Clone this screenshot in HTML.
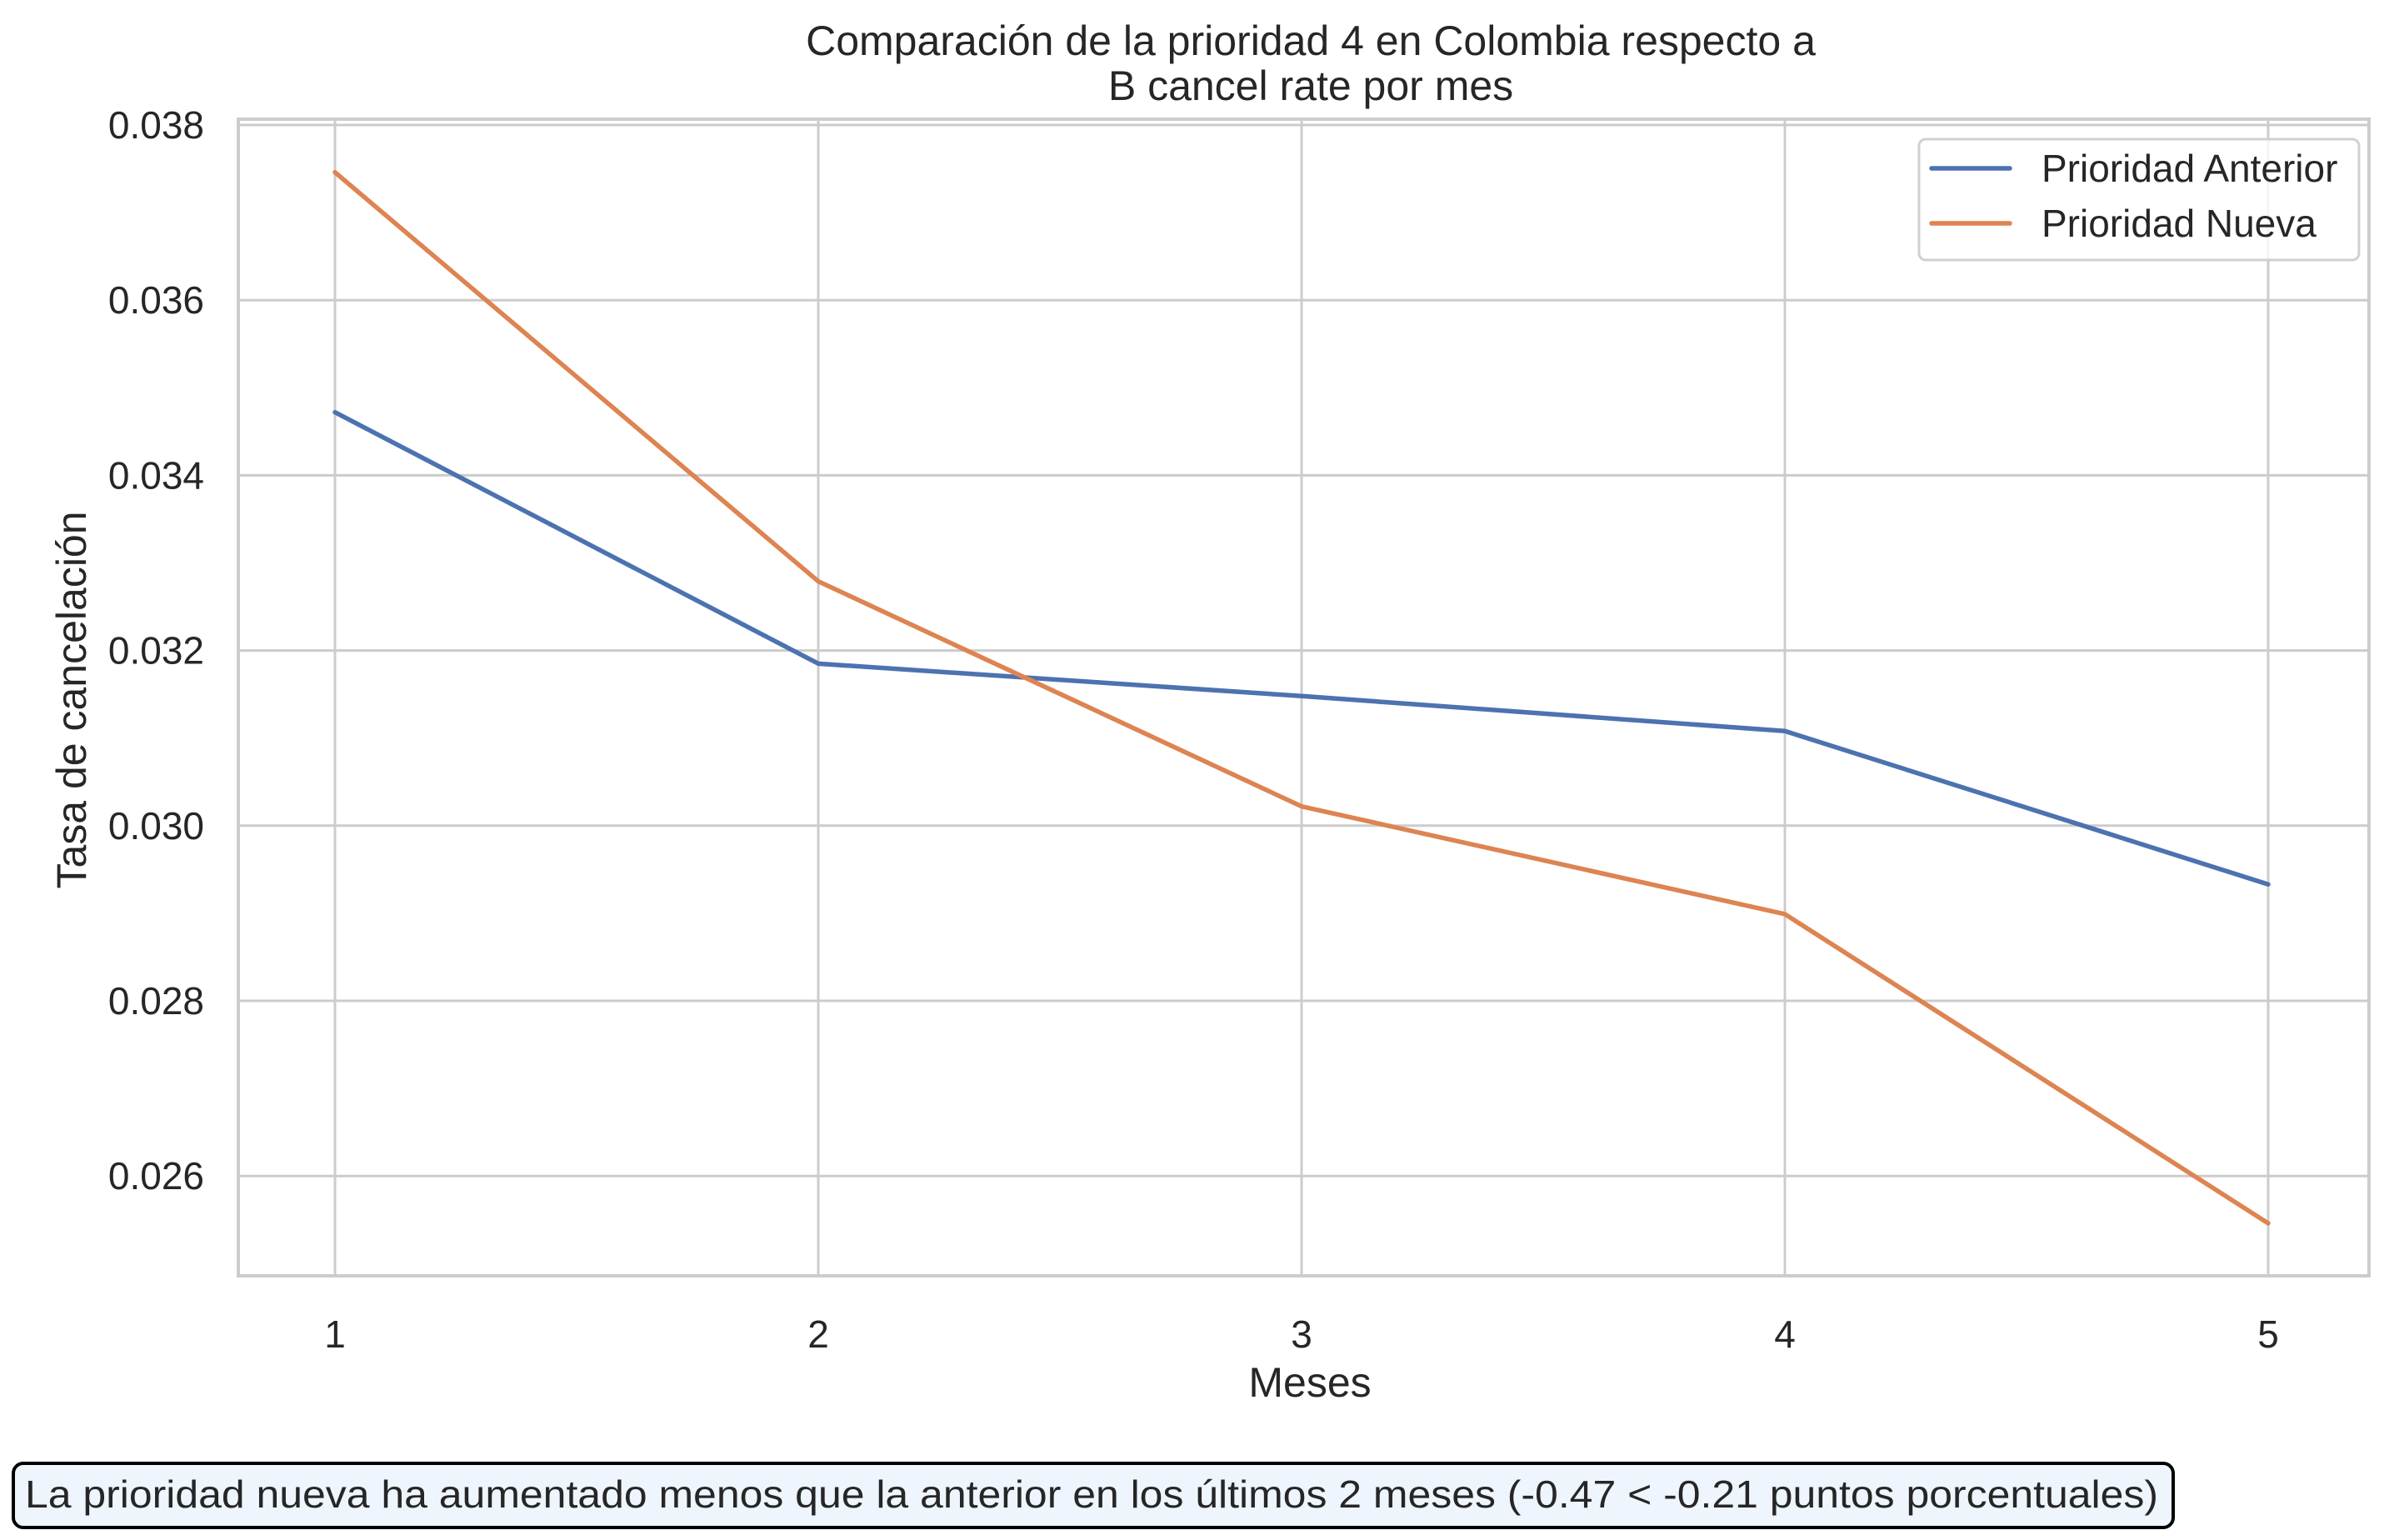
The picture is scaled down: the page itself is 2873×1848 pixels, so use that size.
<!DOCTYPE html>
<html><head><meta charset="utf-8">
<style>
html,body{margin:0;padding:0;background:#fff;}
svg{display:block;}
text{font-family:"Liberation Sans",Arial,sans-serif;fill:#262626;}
</style></head>
<body>
<svg id="chart" xmlns="http://www.w3.org/2000/svg" width="2873" height="1848" viewBox="0 0 2873 1848">
<rect width="2873" height="1848" fill="#fff"/>
<g id="grid"></g>
<g id="lines"></g>
<g id="labels"></g>
<text x="1573" y="66" font-size="50" text-anchor="middle">Comparación de la prioridad 4 en Colombia respecto a</text>
<text x="1573" y="120" font-size="50" text-anchor="middle">B cancel rate por mes</text>
<text x="1572" y="1676" font-size="50" text-anchor="middle">Meses</text>
<text x="0" y="0" font-size="50" text-anchor="middle" transform="translate(103,840) rotate(-90)">Tasa de cancelación</text>
<g>
<rect x="2303" y="167" width="528" height="145" rx="8" fill="#fff" fill-opacity="0.8" stroke="#d0d0d0" stroke-width="3"/>
<line x1="2318" y1="202" x2="2412" y2="202" stroke="#4c72b0" stroke-width="5.5" stroke-linecap="round"/>
<text x="2450" y="218" font-size="46">Prioridad Anterior</text>
<line x1="2318" y1="268" x2="2412" y2="268" stroke="#dd8452" stroke-width="5.5" stroke-linecap="round"/>
<text x="2450" y="284" font-size="46">Prioridad Nueva</text>
</g>
<g>
<rect x="16" y="1756" width="2592" height="77" rx="12" fill="#eef5fd" stroke="#000" stroke-width="4"/>
<text x="30" y="1809" font-size="46" textLength="2560" lengthAdjust="spacingAndGlyphs">La prioridad nueva ha aumentado menos que la anterior en los últimos 2 meses (-0.47 &lt; -0.21 puntos porcentuales)</text>
</g>
</svg>
<script>
const months = [1, 2, 3, 4, 5];
const anterior = [0.03472, 0.03185, 0.03148, 0.03108, 0.02933];
const nueva = [0.03746, 0.03279, 0.03022, 0.02899, 0.02546];
const yTicks = [0.026, 0.028, 0.030, 0.032, 0.034, 0.036, 0.038];
const yTickLabels = ["0.026", "0.028", "0.030", "0.032", "0.034", "0.036", "0.038"];

const NS = "http://www.w3.org/2000/svg";
const L = 286, R = 2843, T = 143, B = 1531;
function xs(m) { return 402 + (m - 1) * 580; }
function ys(v) { return 150 + (0.038 - v) / 0.002 * 210.2; }

const grid = document.getElementById('grid');
const labels = document.getElementById('labels');
const lines = document.getElementById('lines');

function mk(tag, attrs, parent) {
  const e = document.createElementNS(NS, tag);
  for (const k in attrs) e.setAttribute(k, attrs[k]);
  parent.appendChild(e);
  return e;
}

yTicks.forEach((t, i) => {
  const g = mk('line', {x1: L, x2: R, y1: ys(t), y2: ys(t), stroke: '#cccccc', 'stroke-width': 3}, grid);
  
  
  const tx = mk('text', {x: 245, y: ys(t) + 16, 'font-size': 46, 'text-anchor': 'end'}, labels);
  tx.textContent = yTickLabels[i];
  
  
});
months.forEach(m => {
  const g = mk('line', {x1: xs(m), x2: xs(m), y1: T, y2: B, stroke: '#cccccc', 'stroke-width': 3}, grid);
  
  
  const tx = mk('text', {x: xs(m), y: 1617, 'font-size': 46, 'text-anchor': 'middle'}, labels);
  tx.textContent = String(m);
  
  
});
const frame = mk('rect', {x: L, y: T, width: R - L, height: B - T, fill: 'none', stroke: '#cccccc', 'stroke-width': 4}, grid);



function drawSeries(vals, color, name) {
  const pts = vals.map((v, i) => xs(months[i]) + ',' + ys(v)).join(' ');
  const p = mk('polyline', {points: pts, fill: 'none', stroke: color, 'stroke-width': 5.5, 'stroke-linejoin': 'round', 'stroke-linecap': 'round'}, lines);
  
  
}
drawSeries(anterior, '#4c72b0', 'line-prioridad-anterior');
drawSeries(nueva, '#dd8452', 'line-prioridad-nueva');
</script>
</body></html>
